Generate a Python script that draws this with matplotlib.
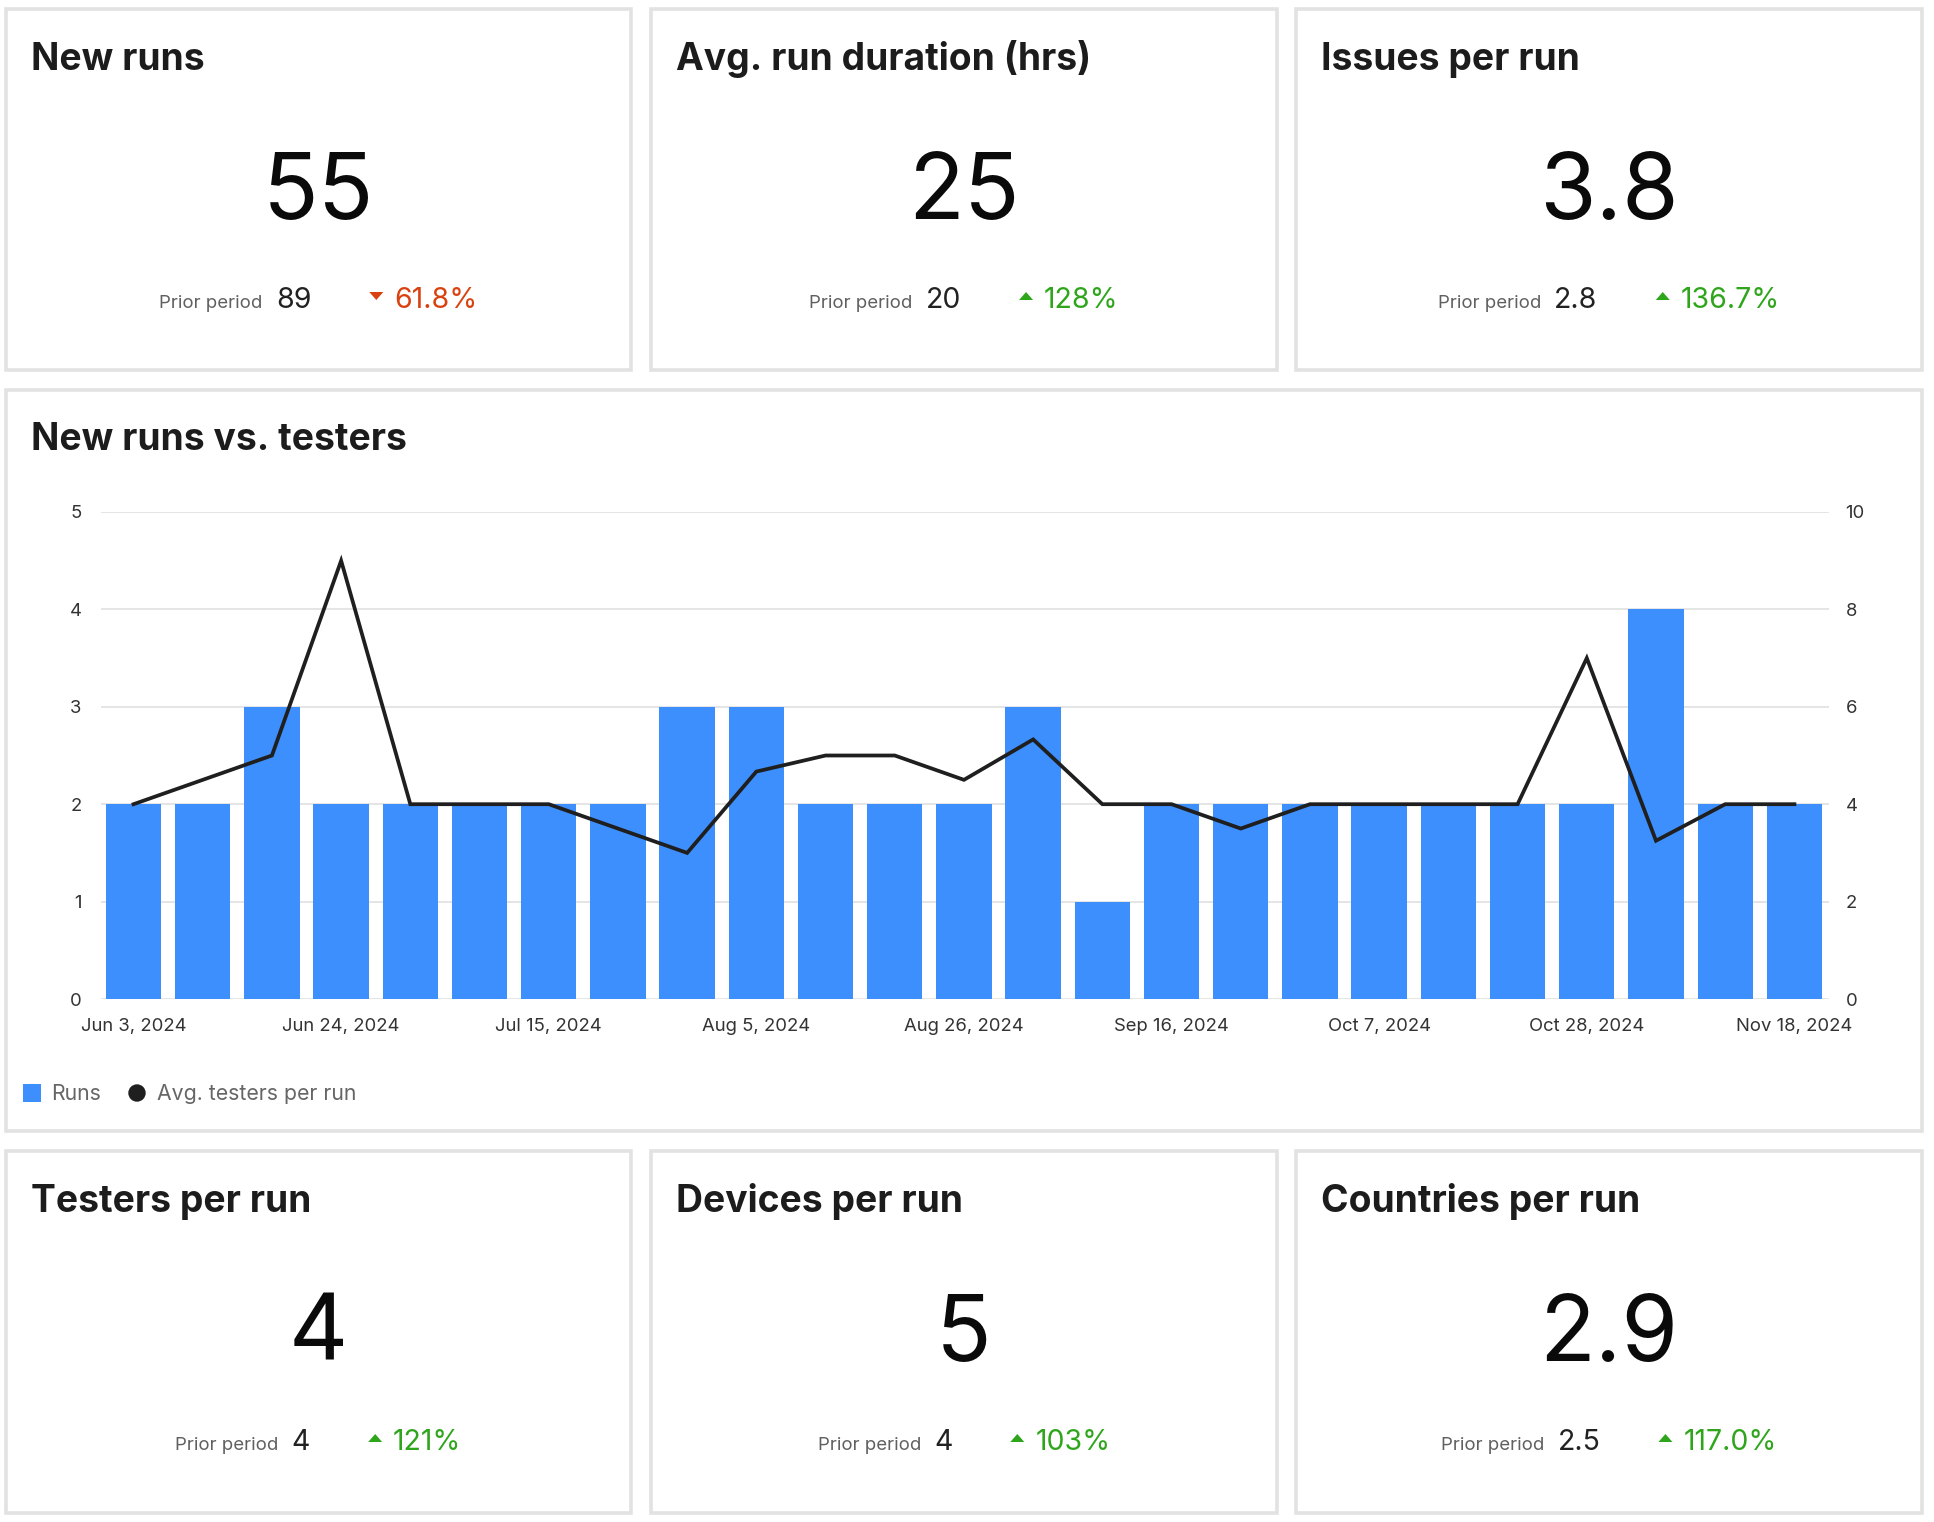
import numpy as np
import matplotlib
matplotlib.use('Agg')
import matplotlib.pyplot as plt
from matplotlib.patches import Rectangle, Polygon, Circle

plt.rcParams['font.family'] = ['Inter', 'DejaVu Sans']

##################################################
# DATA
##################################################
week_labels = ['Jun 3, 2024', 'Jun 10, 2024', 'Jun 17, 2024', 'Jun 24, 2024',
               'Jul 1, 2024', 'Jul 8, 2024', 'Jul 15, 2024', 'Jul 22, 2024',
               'Jul 29, 2024', 'Aug 5, 2024', 'Aug 12, 2024', 'Aug 19, 2024',
               'Aug 26, 2024', 'Sep 2, 2024', 'Sep 9, 2024', 'Sep 16, 2024',
               'Sep 23, 2024', 'Sep 30, 2024', 'Oct 7, 2024', 'Oct 14, 2024',
               'Oct 21, 2024', 'Oct 28, 2024', 'Nov 4, 2024', 'Nov 11, 2024',
               'Nov 18, 2024']
runs = [2, 2, 3, 2, 2, 2, 2, 2, 3, 3, 2, 2, 2, 3, 1, 2, 2, 2, 2, 2, 2, 2, 4, 2, 2]
avg_testers = [4, 4.5, 5, 9, 4, 4, 4, 3.5, 3, 4.67, 5, 5, 4.5, 5.33, 4, 4,
               3.5, 4, 4, 4, 4, 7, 3.25, 4, 4]

kpi_titles = ['New runs', 'Avg. run duration (hrs)', 'Issues per run',
              'Testers per run', 'Devices per run', 'Countries per run']
kpi_values = ['55', '25', '3.8', '4', '5', '2.9']
kpi_prior = ['89', '20', '2.8', '4', '4', '2.5']
kpi_change = ['61.8%', '128%', '136.7%', '121%', '103%', '117.0%']
kpi_up = [False, True, True, True, True, True]

BLUE = '#3d8ffd'
LINE = '#1f1f1f'
RED = '#d9410e'
GREEN = '#2fa51c'
BORDER = '#e2e2e2'

##################################################
# FIGURE / BACKGROUND (pixel coords)
##################################################
W, H = 1934, 1522
fig = plt.figure(figsize=(W / 100, H / 100), dpi=100)
bg = fig.add_axes([0, 0, 1, 1])
bg.set_xlim(0, W)
bg.set_ylim(H, 0)
bg.axis('off')
renderer = fig.canvas.get_renderer()


def card(x0, y0, x1, y1):
    bg.add_patch(Rectangle((x0, y0), x1 - x0, y1 - y0, facecolor='white',
                           edgecolor=BORDER, linewidth=2.6))


def text_w(t):
    return t.get_window_extent(renderer=renderer).width


def kpi_card(i, x0, y0, x1, y1):
    card(x0, y0, x1, y1)
    cx = (x0 + x1) / 2
    bg.text(x0 + 25, y0 + 61, kpi_titles[i], fontsize=26.8, fontweight='bold',
            color='#1c1c1c', va='baseline', ha='left')
    bg.text(cx, y0 + 210, kpi_values[i], fontsize=66, color='#0a0a0a',
            va='baseline', ha='center')
    base = y0 + 299
    t1 = bg.text(0, base, 'Prior period', fontsize=13.4, color='#606060', va='baseline')
    t2 = bg.text(0, base, kpi_prior[i], fontsize=20.5, color='#222222', va='baseline')
    col = GREEN if kpi_up[i] else RED
    t3 = bg.text(0, base, kpi_change[i], fontsize=20.5, color=col, va='baseline')
    w1, w2, w3 = text_w(t1), text_w(t2), text_w(t3)
    tri_w = 14
    total = w1 + 13 + w2 + 58 + tri_w + 11 + w3
    x = cx - total / 2
    t1.set_x(x)
    x += w1 + 13
    t2.set_x(x)
    x += w2 + 58
    ty = base - 12
    if kpi_up[i]:
        pts = [(x, ty + 4), (x + tri_w, ty + 4), (x + tri_w / 2, ty - 4)]
    else:
        pts = [(x, ty - 4), (x + tri_w, ty - 4), (x + tri_w / 2, ty + 4)]
    bg.add_patch(Polygon(pts, closed=True, facecolor=col, edgecolor='none'))
    x += tri_w + 11
    t3.set_x(x)


cols = [(6, 631), (651, 1277), (1296, 1922)]
for k, (a, b) in enumerate(cols):
    kpi_card(k, a, 9, b, 370)
    kpi_card(k + 3, a, 1151, b, 1513)

# middle chart card
card(6, 390, 1922, 1131)
bg.text(31, 450, 'New runs vs. testers', fontsize=26.8, fontweight='bold',
        color='#1c1c1c', va='baseline', ha='left')

# legend
bg.add_patch(Rectangle((23, 1084), 17.5, 17.5, facecolor=BLUE, edgecolor='none'))
bg.text(51, 1094, 'Runs', fontsize=15.3, color='#666666', va='center')
bg.add_patch(Circle((137, 1093), 8.7, facecolor=LINE, edgecolor='none'))
bg.text(157, 1094, 'Avg. testers per run', fontsize=15.3, color='#666666', va='center')

##################################################
# CHART
##################################################
x = np.arange(len(runs))
ax = fig.add_axes([101 / W, 1 - 999 / H, (1829 - 101) / W, (999 - 512) / H])
ax.patch.set_alpha(0)
ax.bar(x, runs, width=0.8, color=BLUE, zorder=2)
ax.set_xlim(-0.47, len(runs) - 0.5)
ax.set_ylim(0, 5)
ax.set_yticks(range(6))
ax.grid(axis='y', color='#e3e3e3', linewidth=1.3, zorder=0)
ax.set_axisbelow(True)
ax.set_xticks(x[::3])
ax.set_xticklabels(week_labels[::3])
ax.tick_params(axis='both', length=0, labelsize=13.3, labelcolor='#333333')
ax.tick_params(axis='x', pad=14)
ax.tick_params(axis='y', pad=14)
for s in ax.spines.values():
    s.set_visible(False)

ax2 = ax.twinx()
ax2.plot(x, avg_testers, color=LINE, linewidth=2.7, solid_joinstyle='miter', zorder=3)
ax2.set_ylim(0, 10)
ax2.set_yticks(range(0, 11, 2))
ax2.tick_params(axis='y', length=0, labelsize=13.3, labelcolor='#333333', pad=12)
for s in ax2.spines.values():
    s.set_visible(False)

fig.savefig('out.png', dpi=100, facecolor='white')
